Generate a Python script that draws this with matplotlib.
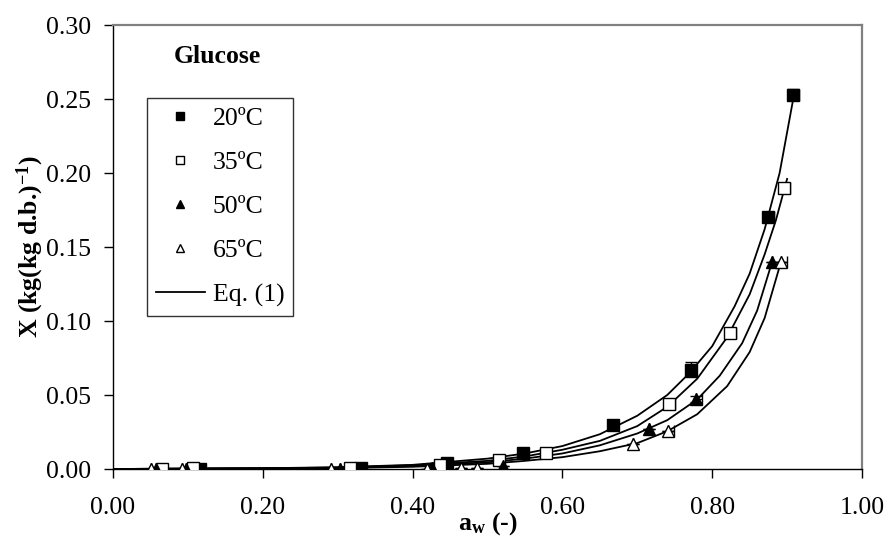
import numpy as np
import matplotlib
matplotlib.use("Agg")
import matplotlib.pyplot as plt

plt.rcParams['font.family'] = ['Liberation Serif', 'DejaVu Serif']
plt.rcParams['mathtext.fontset'] = 'custom'
plt.rcParams['mathtext.rm'] = 'Liberation Serif'
plt.rcParams['mathtext.bf'] = 'Liberation Serif:bold'
plt.rcParams['mathtext.it'] = 'Liberation Serif:italic'

# measured points (aw, X)
aw20 = [0.116, 0.331, 0.446, 0.547, 0.668, 0.772, 0.874, 0.908]
x20 = [0.000, 0.001, 0.004, 0.011, 0.030, 0.067, 0.170, 0.253]
ey20 = [0.0, 0.0, 0.0, 0.0, 0.0, 0.005, 0.0, 0.004]
ex20 = [0.0, 0.0, 0.0, 0.0, 0.0, 0.0, 0.008, 0.008]

aw35 = [0.065, 0.107, 0.316, 0.437, 0.515, 0.578, 0.742, 0.824, 0.896]
x35 = [0.000, 0.001, 0.001, 0.003, 0.006, 0.011, 0.044, 0.092, 0.190]
ey35 = [0.0, 0.0, 0.0, 0.0, 0.0, 0.0, 0.0, 0.0, 0.0]
ex35 = [0.0, 0.0, 0.0, 0.0, 0.0, 0.0, 0.008, 0.008, 0.008]

aw50 = [0.058, 0.097, 0.303, 0.426, 0.521, 0.716, 0.779, 0.880]
x50 = [0.000, 0.000, 0.000, 0.001, 0.002, 0.027, 0.047, 0.140]
ey50 = [0.0, 0.0, 0.0, 0.0, 0.0, 0.0, 0.002, 0.0]
ex50 = [0.0, 0.0, 0.0, 0.0, 0.0, 0.0, 0.008, 0.0]

aw65 = [0.051, 0.092, 0.291, 0.419, 0.465, 0.486, 0.694, 0.741, 0.892]
x65 = [0.000, 0.000, 0.000, 0.000, 0.001, 0.001, 0.017, 0.026, 0.140]
ey65 = [0.0, 0.0, 0.0, 0.0, 0.0, 0.0, 0.0, 0.0, 0.0]
ex65 = [0.0, 0.0, 0.0, 0.0, 0.0, 0.0, 0.0, 0.008, 0.008]

# Eq. (1) curves
c_aw20 = [0.0, 0.20, 0.30, 0.40, 0.50, 0.55, 0.60, 0.65, 0.70, 0.74, 0.77, 0.80, 0.83, 0.85, 0.87, 0.89, 0.91]
c_x20 = [0.0, 0.0005, 0.0012, 0.0028, 0.0070, 0.0105, 0.0155, 0.0235, 0.0360, 0.0500, 0.0650,
         0.0830, 0.1100, 0.1320, 0.1620, 0.2000, 0.2550]
c_aw35 = [0.0, 0.20, 0.30, 0.40, 0.50, 0.55, 0.60, 0.65, 0.70, 0.74, 0.78, 0.82, 0.85, 0.87, 0.885, 0.90]
c_x35 = [0.0, 0.0004, 0.0010, 0.0025, 0.0055, 0.0085, 0.0130, 0.0190, 0.0290, 0.0420, 0.0610,
         0.0890, 0.1180, 0.1450, 0.1680, 0.1960]
c_aw50 = [0.0, 0.30, 0.40, 0.50, 0.55, 0.60, 0.65, 0.70, 0.74, 0.78, 0.81, 0.84, 0.86, 0.88]
c_x50 = [0.0, 0.0008, 0.0020, 0.0045, 0.0070, 0.0105, 0.0160, 0.0240, 0.0330, 0.0470, 0.0630,
         0.0850, 0.1070, 0.1400]
c_aw65 = [0.0, 0.30, 0.40, 0.50, 0.55, 0.60, 0.65, 0.70, 0.74, 0.78, 0.82, 0.85, 0.87, 0.893]
c_x65 = [0.0, 0.0006, 0.0015, 0.0035, 0.0055, 0.0080, 0.0120, 0.0175, 0.0255, 0.0370, 0.0560,
         0.0790, 0.1020, 0.1420]

xticks = [0.0, 0.2, 0.4, 0.6, 0.8, 1.0]
yticks = [0.0, 0.05, 0.10, 0.15, 0.20, 0.25, 0.30]

fig = plt.figure(figsize=(8.87, 5.38), dpi=100)
ax = fig.add_axes([113 / 887, 1 - 469 / 538, 749 / 887, 444 / 538])

for caw, cx in [(c_aw20, c_x20), (c_aw35, c_x35), (c_aw50, c_x50), (c_aw65, c_x65)]:
    ax.plot(caw, cx, color='black', lw=1.3, zorder=2)

series = [
    (aw20, x20, ey20, ex20, 's', 'black', '20ºC'),
    (aw35, x35, ey35, ex35, 's', 'white', '35ºC'),
    (aw50, x50, ey50, ex50, '^', 'black', '50ºC'),
    (aw65, x65, ey65, ex65, '^', 'white', '65ºC'),
]
handles = []
for aw, xv, ey, ex, m, fc, lab in series:
    ax.errorbar(aw, xv, yerr=ey, xerr=[np.zeros(len(ex)), ex], fmt='none',
                ecolor='black', elinewidth=1.0, capsize=4, zorder=3)
    h, = ax.plot(aw, xv, ls='none', marker=m, ms=8, mfc=fc, mec='black', mew=1.0,
                 label=lab, zorder=4)
    handles.append(h)
eq, = ax.plot([], [], color='black', lw=1.3, label='Eq. (1)')
handles.append(eq)

ax.set_xlim(0, 1.0)
ax.set_ylim(0, 0.30)
ax.set_xticks(xticks)
ax.set_yticks(yticks)
ax.set_xticklabels(['%.2f' % v for v in xticks])
ax.set_yticklabels(['%.2f' % v for v in yticks])
ax.tick_params(axis='both', direction='out', length=6.5, width=1.0, labelsize=18.5, colors='black')
ax.tick_params(axis='x', pad=14)
ax.tick_params(axis='y', pad=9)

for s in ['top', 'right']:
    ax.spines[s].set_color('#808080')
    ax.spines[s].set_linewidth(1.6)
for s in ['left', 'bottom']:
    ax.spines[s].set_color('black')
    ax.spines[s].set_linewidth(1.0)

ax.set_xlabel(r'$\mathbf{a}_{\mathbf{w}}$ (-)', fontsize=18.5, fontweight='bold', labelpad=-7)
ax.set_ylabel(r'X (kg(kg d.b.)$^{\mathbf{-1}}$)', fontsize=18.5, fontweight='bold', labelpad=0)

ax.text(0.140, 0.93, 'Glucose', transform=ax.transAxes, fontsize=18.5, fontweight='bold',
        ha='center', va='center')

leg = ax.legend(handles=handles, loc='upper left', bbox_to_anchor=(0.0454, 0.8356),
                borderaxespad=0, fontsize=18.5, frameon=True, fancybox=False,
                edgecolor='black', markerscale=0.7, handlelength=1.9, handletextpad=0.3,
                labelspacing=0.82, borderpad=0.35)
leg.get_frame().set_linewidth(1.0)

fig.savefig('out.png', dpi=100)
